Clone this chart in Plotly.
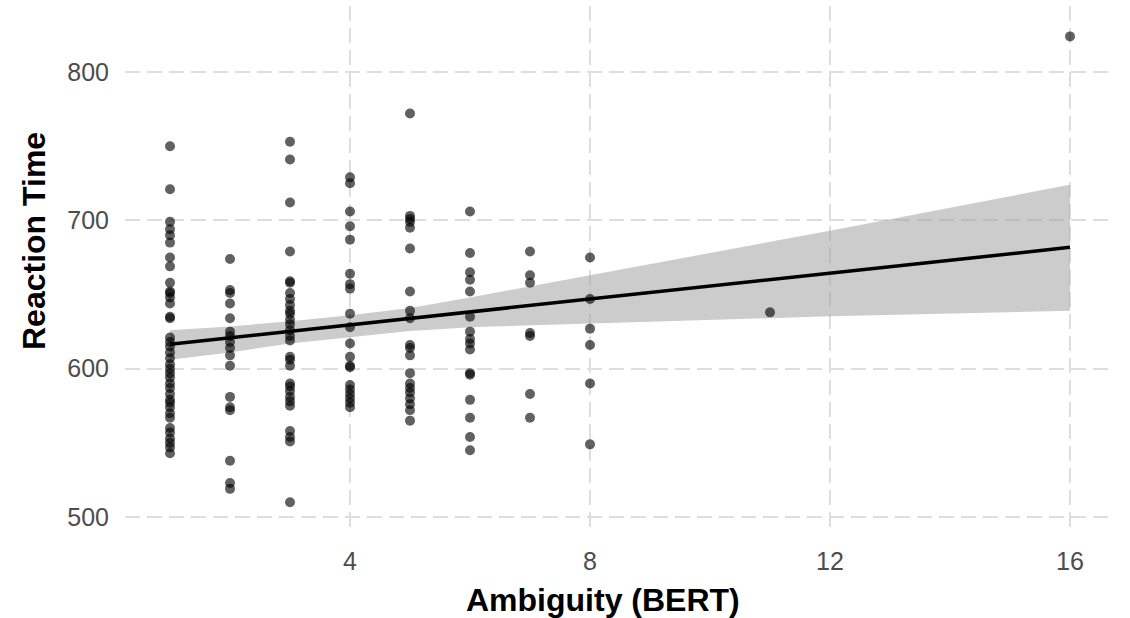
import plotly.graph_objects as go

# Ambiguity (BERT) score per item and the matching reaction times
amb_1 = [750, 721, 699, 694, 690, 685, 675, 669, 658, 652, 651, 648, 644, 635, 634,
         621, 618, 615, 611, 607, 603, 600, 597, 594, 590, 587, 583, 579, 577, 574,
         570, 567, 560, 557, 553, 550, 547, 543]
amb_2 = [674, 653, 651, 644, 634, 625, 622, 618, 614, 609, 602, 581, 574, 572, 538, 523, 519]
amb_3 = [753, 741, 712, 679, 659, 658, 651, 647, 643, 639, 637, 633, 630, 626, 622,
         619, 608, 606, 602, 590, 588, 585, 581, 578, 575, 558, 554, 551, 510]
amb_4 = [729, 725, 706, 696, 687, 664, 657, 654, 637, 628, 617, 608, 602, 601, 589,
         586, 583, 580, 577, 574]
amb_5 = [772, 703, 701, 699, 695, 681, 652, 639, 634, 616, 614, 609, 597, 590, 587,
         584, 580, 576, 572, 565]
amb_6 = [706, 678, 665, 660, 652, 635, 625, 620, 617, 613, 597, 596, 579, 567, 554, 545]
amb_7 = [679, 663, 658, 624, 622, 583, 567]
amb_8 = [675, 647, 627, 616, 590, 549]
amb_11 = [638]
amb_16 = [824]

groups = {1: amb_1, 2: amb_2, 3: amb_3, 4: amb_4, 5: amb_5, 6: amb_6,
          7: amb_7, 8: amb_8, 11: amb_11, 16: amb_16}

# Linear fit and its 95% confidence band
fit_x = [1, 16]
fit_y = [616.5, 681.8]
band_x = [1, 2, 3, 4, 5, 6, 8, 12, 16]
band_hi = [626, 628.5, 632, 636, 641, 648, 663, 693, 724]
band_lo = [606, 611, 617, 621.5, 625.5, 628, 630.5, 635.3, 639.1]

x_ticks = [4, 8, 12, 16]
y_ticks = [500, 600, 700, 800]

xs, ys = [], []
for k, vals in groups.items():
    xs += [k] * len(vals)
    ys += vals

fig = go.Figure()

fig.add_trace(go.Scatter(
    x=band_x + band_x[::-1],
    y=band_hi + band_lo[::-1],
    fill="toself",
    fillcolor="rgba(153,153,153,0.5)",
    line=dict(width=0),
    mode="lines",
    hoverinfo="skip",
    showlegend=False,
))

fig.add_trace(go.Scatter(
    x=xs, y=ys, mode="markers",
    marker=dict(size=10, color="rgba(0,0,0,0.62)", line=dict(width=0)),
    showlegend=False,
))

fig.add_trace(go.Scatter(
    x=fit_x, y=fit_y, mode="lines",
    line=dict(color="black", width=3.5),
    showlegend=False,
))

grid = dict(showgrid=True, gridcolor="#dedede", gridwidth=1.5, griddash="15px,7px",
            zeroline=False, showline=False, ticks="",
            tickfont=dict(family="Liberation Sans, Arial, sans-serif", size=25, color="#4d4d4d"))

fig.update_xaxes(range=[0.25, 16.75], tickvals=x_ticks, ticklabelstandoff=17, **grid)
fig.update_yaxes(range=[493.3, 844.5], tickvals=y_ticks, ticklabelstandoff=15, **grid)

title_font = dict(family="Liberation Sans, Arial, sans-serif", size=32, color="black")
fig.add_annotation(text="<b>Ambiguity (BERT)</b>", xref="paper", yref="paper",
                   x=0.4828, y=-0.140, xanchor="center", yanchor="middle",
                   showarrow=False, font=title_font)
fig.add_annotation(text="<b>Reaction Time</b>", xref="paper", yref="paper",
                   x=-0.0919, y=0.549, xanchor="center", yanchor="middle",
                   textangle=-90, showarrow=False, font=title_font)

fig.update_layout(
    width=1130, height=618,
    margin=dict(l=125, r=15, t=6, b=91),
    paper_bgcolor="white", plot_bgcolor="white",
)

fig.write_html("out.html")
